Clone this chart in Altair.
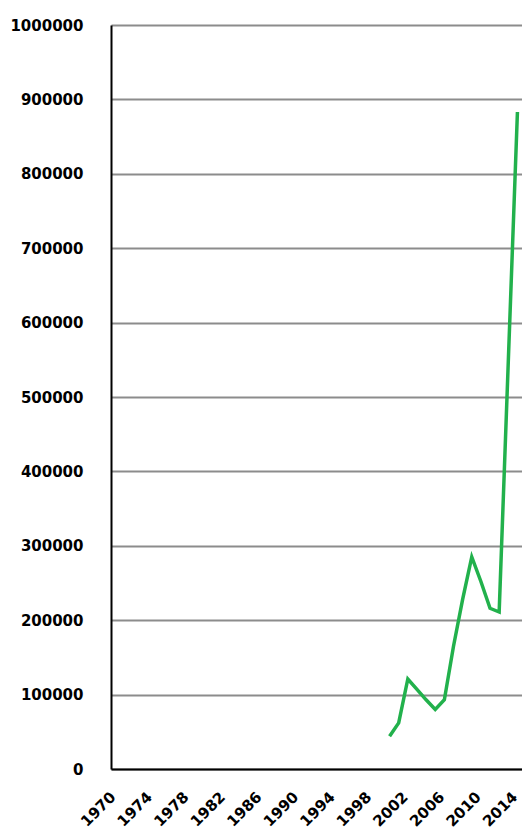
import altair as alt
import pandas as pd

years = [2000, 2001, 2002, 2003, 2004, 2005, 2006, 2007, 2008, 2009, 2010, 2011, 2012, 2013, 2014]
values = [44000, 62000, 121000, 107000, 93000, 80000, 93000, 165000, 228000, 285000,
          252000, 216000, 211000, 548000, 883000]
tick_years = list(range(1970, 2015, 4))
y_ticks = list(range(0, 1000001, 100000))

df = pd.DataFrame({"year": years, "value": values})

font = "DejaVu Sans"

chart = alt.Chart(df).mark_line(color="#22B14C", strokeWidth=3.5).encode(
    x=alt.X(
        "year:Q",
        scale=alt.Scale(domain=[1969.5, 2014.5], nice=False, zero=False),
        axis=alt.Axis(
            values=tick_years, format="d", labelAngle=-45, labelAlign="right",
            labelBaseline="middle", ticks=False, grid=False, domainColor="black",
            domainWidth=2, labelFont=font, labelFontWeight="bold", labelFontSize=15,
            labelPadding=25, labelOffset=-3, labelColor="black", labelOverlap=False,
            labelFlush=False, title=None,
        ),
    ),
    y=alt.Y(
        "value:Q",
        scale=alt.Scale(domain=[0, 1000000], nice=False),
        axis=alt.Axis(
            values=y_ticks, format="d", ticks=False, grid=True, gridColor="#8c8c8c",
            gridWidth=2, domainColor="black", domainWidth=2, labelFont=font,
            labelFontWeight="bold", labelFontSize=15, labelPadding=28,
            labelColor="black", labelOverlap=False, labelFlush=False, title=None,
        ),
    ),
).properties(
    width=411,
    height=744,
    autosize="none",
    padding={"left": 111, "top": 25, "right": 0, "bottom": 61},
).configure_view(stroke=None)

chart.save("out.html", embed_options={"renderer": "svg", "actions": False})
